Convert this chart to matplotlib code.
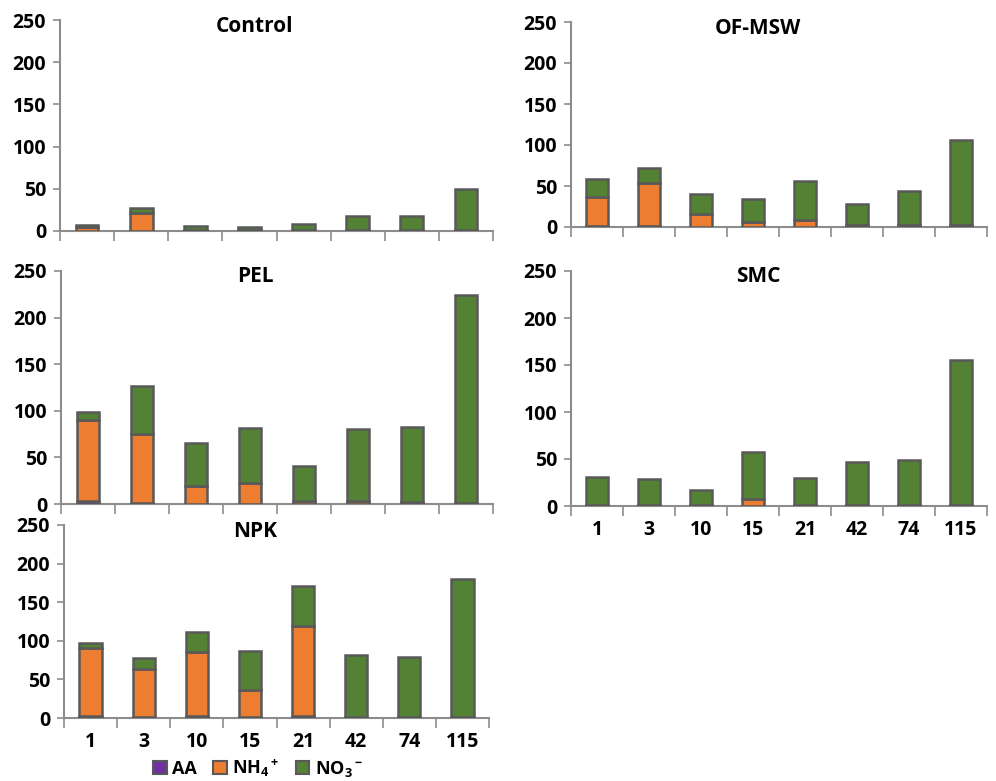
import numpy as np
import matplotlib
matplotlib.use("Agg")
import matplotlib.pyplot as plt
from matplotlib.patches import Patch

plt.rcParams["font.family"] = ["Open Sans", "DejaVu Sans"]
plt.rcParams["font.weight"] = "bold"
plt.rcParams["mathtext.fontset"] = "custom"
plt.rcParams["mathtext.rm"] = "Open Sans:bold"
plt.rcParams["mathtext.bf"] = "Open Sans:bold"
plt.rcParams["mathtext.default"] = "bf"

days = ["1", "3", "10", "15", "21", "42", "74", "115"]

# stacked components per treatment (AA, NH4+, NO3-)
control_aa = [0.5, 0.5, 0.3, 0.3, 0.3, 0.3, 0.3, 0.3]
control_nh4 = [4, 21, 1, 1, 1, 1, 1, 1]
control_no3 = [3, 6, 5, 4, 7, 17, 17, 48]

ofmsw_aa = [1, 1, 0.5, 0.5, 0.5, 0.5, 0.5, 0.5]
ofmsw_nh4 = [36, 53, 15, 6, 8, 2, 2, 2]
ofmsw_no3 = [22, 18, 25, 28, 47, 26, 42, 103]

pel_aa = [3, 1, 0.5, 0.5, 0.5, 0.5, 0.5, 0.5]
pel_nh4 = [87, 74, 19, 22, 3, 3, 2, 1]
pel_no3 = [9, 52, 46, 59, 37, 77, 80, 223]

smc_aa = [0.5, 0.5, 0.5, 0.5, 0.5, 0.5, 0.5, 0.5]
smc_nh4 = [1, 1, 1, 7, 1, 1, 1, 1]
smc_no3 = [29, 27, 16, 50, 28, 45, 47, 154]

npk_aa = [3, 1, 3, 1, 3, 0.5, 0.5, 0.5]
npk_nh4 = [88, 62, 82, 35, 116, 1, 1, 1]
npk_no3 = [6, 15, 26, 51, 52, 80, 77, 179]

series_labels = ["AA", "NH$_4$$^+$", "NO$_3$$^-$"]
colors = ["#7030A0", "#ED7D31", "#548235"]
edge = "#595959"
axis_gray = "#8C8C8C"

W, H = 996, 781
fig = plt.figure(figsize=(W / 100, H / 100), dpi=100)


def px_axes(left, top, right, bottom):
    return fig.add_axes([left / W, 1 - bottom / H, (right - left) / W, (bottom - top) / H])


panels = [
    ("Control", (60, 20, 493, 231), control_aa, control_nh4, control_no3, False),
    ("OF-MSW", (571, 22, 987, 227), ofmsw_aa, ofmsw_nh4, ofmsw_no3, False),
    ("PEL", (61, 271, 493, 504), pel_aa, pel_nh4, pel_no3, False),
    ("SMC", (571, 271, 987, 506), smc_aa, smc_nh4, smc_no3, True),
    ("NPK", (64, 525, 489, 718), npk_aa, npk_nh4, npk_no3, True),
]

x = np.arange(len(days))

for title, box, aa, nh4, no3, show_x in panels:
    ax = px_axes(*box)
    bottom = np.zeros(len(days))
    for vals, c in zip([aa, nh4, no3], colors):
        ax.bar(x, vals, width=0.42, bottom=bottom, color=c,
               edgecolor=edge, linewidth=1.8, zorder=3)
        bottom = bottom + np.array(vals)

    ax.set_xlim(-0.5, len(days) - 0.5)
    ax.set_ylim(0, 250)
    ax.set_yticks([0, 50, 100, 150, 200, 250])
    ax.set_yticklabels(["0", "50", "100", "150", "200", "250"],
                       fontweight="bold", fontsize=14)
    ax.tick_params(axis="y", length=5, width=1.2, color=axis_gray, pad=5)

    ax.set_xticks(x)
    ax.set_xticks(np.arange(-0.5, len(days)), minor=True)
    ax.tick_params(axis="x", which="major", length=0, pad=10)
    ax.tick_params(axis="x", which="minor", length=7, width=1.2, color=axis_gray)
    if show_x:
        ax.set_xticklabels(days, fontweight="bold", fontsize=14)
    else:
        ax.set_xticklabels([])

    for s in ["top", "right"]:
        ax.spines[s].set_visible(False)
    for s in ["left", "bottom"]:
        ax.spines[s].set_color(axis_gray)
        ax.spines[s].set_linewidth(1.5)

    ax.text(0.45, 1.02, title, transform=ax.transAxes, ha="center", va="top",
            fontsize=15, fontweight="bold")

handles = [Patch(facecolor=c, edgecolor=edge, linewidth=1.5) for c in colors]
fig.legend(handles, series_labels, loc="center", bbox_to_anchor=(258 / W, 1 - 768 / H),
           ncol=3, frameon=False, handlelength=0.75, handleheight=0.75,
           handletextpad=0.3, columnspacing=0.9,
           prop={"weight": "bold", "size": 13})

fig.savefig("out.png", dpi=100)
